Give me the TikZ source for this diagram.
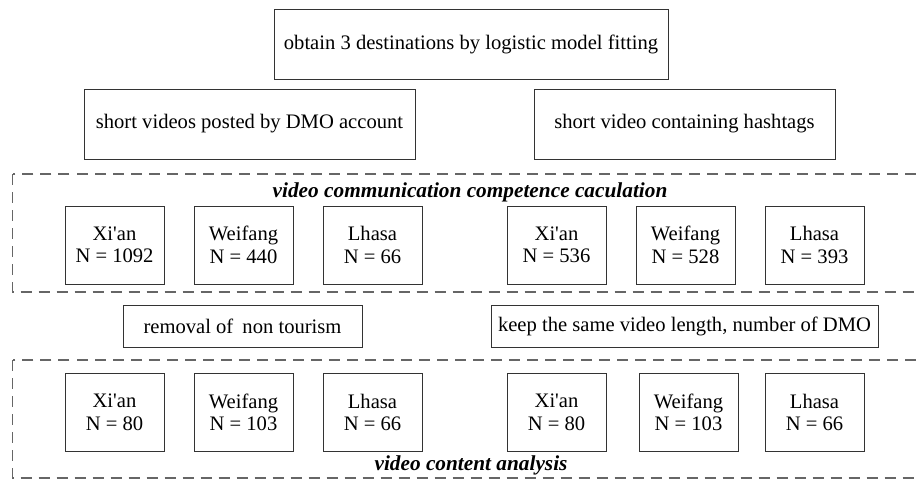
\documentclass[tikz,border=0pt]{standalone}
\usepackage{fontspec}
\setmainfont{Liberation Serif}
\usetikzlibrary{positioning}
\tikzset{stage box/.style={draw=black!80,line width=1pt,inner sep=0pt,align=center,font=\fontsize{20.6}{22.5}\selectfont},
	city box/.style={stage box,minimum width=99pt,minimum height=78pt},
	group frame/.style={draw=black!60,line width=1.2pt,dash pattern=on 11pt off 7pt},
	group title/.style={inner sep=0pt,font=\fontsize{21.3}{24}\selectfont\bfseries\itshape},}
\newcommand{\xian}{Xi\textquotesingle an}

\begin{document}
\begin{tikzpicture}[x=1pt,y=-1pt]
	\clip (0,0) rectangle (916,480);
	\node[stage box, minimum width=394pt, minimum height=70pt] (fit) at (471,44) {obtain 3 destinations by logistic model fitting};
	\node[stage box, minimum width=331pt, minimum height=70pt] (dmo) at (249.5,124) {short videos posted by DMO account};
	\node[stage box, minimum width=301pt, minimum height=70pt] (tag) at (684.5,124) {short video containing hashtags};

	% competence calculation
	\draw[group frame] (12.5,174) rectangle (940,292);
	\node[group title] (calc) at (470,192) {video communication competence caculation};
	\node[city box] (xa1) at (114.5,245) {\xian\\N = 1092};
	\node[city box, right=29pt of xa1] (wf1) {Weifang\\N = 440};
	\node[city box, right=29pt of wf1] (lh1) {Lhasa\\N = 66};
	\node[city box] (xa2) at (556.5,245) {\xian\\N = 536};
	\node[city box, right=29pt of xa2] (wf2) {Weifang\\N = 528};
	\node[city box, right=29pt of wf2] (lh2) {Lhasa\\N = 393};

	\node[stage box, minimum width=239pt, minimum height=42pt] (rm) at (242.5,326) {removal of\hspace{4pt} non tourism};
	\node[stage box, minimum width=387pt, minimum height=42pt] (keep) at (684.5,326) {keep the same video length, number of DMO};

	% content analysis
	\draw[group frame] (12.5,360) rectangle (940,478);
	\node[city box] (xa3) at (114.5,412.5) {\xian\\N = 80};
	\node[city box, right=29pt of xa3] (wf3) {Weifang\\N = 103};
	\node[city box, right=29pt of wf3] (lh3) {Lhasa\\N = 66};
	\node[city box] (xa4) at (556.5,412.5) {\xian\\N = 80};
	\node[city box, right=32pt of xa4] (wf4) {Weifang\\N = 103};
	\node[city box, right=26pt of wf4] (lh4) {Lhasa\\N = 66};
	\node[group title] (cont) at (471,465) {video content analysis};
\end{tikzpicture}
\end{document}
